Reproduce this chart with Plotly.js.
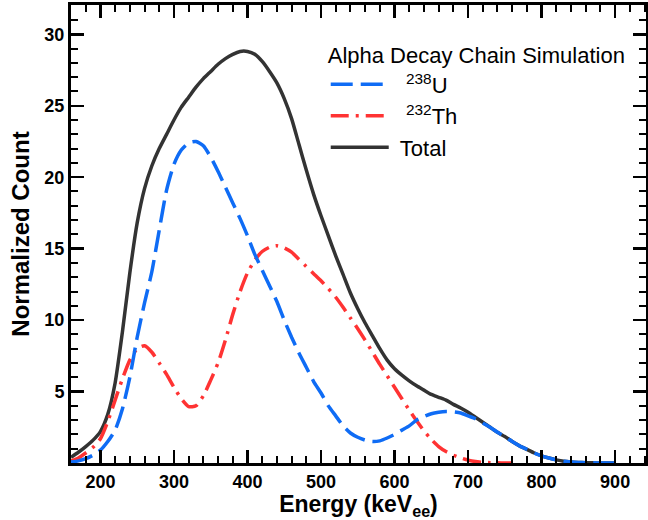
<!DOCTYPE html>
<html>
<head>
<meta charset="utf-8">
<script src="https://cdn.plot.ly/plotly-3.0.1.min.js"></script>
<style>html,body{margin:0;padding:0;background:#fff;}#chart{width:648px;height:520px;}</style>
</head>
<body>
<div id="chart"></div>
<script>
// Energy grid (keV_ee)
const energy = [160,170,180,190,200,210,220,230,240,250,260,270,280,290,300,310,320,330,340,350,360,370,380,390,400,410,420,430,440,450,460,470,480,490,500,510,520,530,540,550,560,570,580,590,600,610,620,630,640,650,660,670,680,690,700,710,720,730,740,750,760,770,780,790,800,810,820,830,840,850,860,870,880,890,900];

// 238U normalized count
const u238 = [0.06,0.15,0.3,0.55,0.9,1.5,2.3,3.8,6.0,8.8,11.2,13.4,16.3,19.1,20.9,21.9,22.4,22.5,22.2,21.4,20.4,19.3,18.2,17.1,15.9,14.6,13.5,12.4,11.3,10.0,8.8,7.7,6.7,5.7,4.9,4.0,3.3,2.6,2.1,1.8,1.6,1.5,1.55,1.75,2.0,2.3,2.6,3.0,3.25,3.45,3.55,3.6,3.58,3.5,3.3,3.1,2.8,2.5,2.15,1.85,1.5,1.2,0.95,0.7,0.5,0.35,0.22,0.12,0.07,0.04,0.02,0.01,0.0,0.0,0.0];

// 232Th normalized count (ends near 760 keV)
const thEnergy = [160,170,180,190,200,210,220,230,240,250,260,270,280,290,300,310,320,330,340,350,360,370,380,390,400,410,420,430,440,450,460,470,480,490,500,510,520,530,540,550,560,570,580,590,600,610,620,630,640,650,660,670,680,690,700,710,720,730,740,750,760];
const th232 = [0.15,0.35,0.7,1.1,1.7,2.9,4.4,5.9,7.2,8.0,8.2,7.75,7.0,6.2,5.3,4.5,3.95,4.0,4.7,5.8,7.0,8.6,10.4,12.0,13.3,14.2,14.8,15.1,15.2,15.05,14.75,14.25,13.75,13.25,12.75,12.2,11.6,10.9,10.15,9.4,8.6,7.75,6.9,6.1,5.3,4.5,3.7,2.95,2.25,1.65,1.15,0.8,0.55,0.35,0.2,0.1,0.05,0.02,0.01,0.0,0.0];

// Total normalized count
const total = [0.4,0.75,1.15,1.6,2.2,3.4,5.6,9.2,13.3,16.8,19.2,20.8,22.0,23.0,24.0,24.9,25.6,26.3,26.9,27.4,27.9,28.3,28.6,28.8,28.8,28.6,28.1,27.4,26.6,25.5,24.1,22.3,20.5,18.8,17.3,15.9,14.5,13.2,11.9,10.8,9.8,8.9,8.0,7.2,6.6,6.15,5.75,5.4,5.1,4.8,4.6,4.4,4.1,3.85,3.55,3.2,2.85,2.5,2.15,1.85,1.5,1.2,0.95,0.7,0.5,0.35,0.22,0.12,0.07,0.04,0.02,0.01,0.0,0.0,0.0];

const xTicks = [200,300,400,500,600,700,800,900];
const yTicks = [5,10,15,20,25,30];

const FONT = "Liberation Sans, Arial, Helvetica, sans-serif";

const traces = [
  {x: energy, y: total, type: 'scatter', mode: 'lines', name: '\u00a0Total', legendrank: 3, legendgroup: 'c',
   line: {color: '#333333', width: 3.5, shape: 'spline', smoothing: 0.6}},
  {x: thEnergy, y: th232, type: 'scatter', mode: 'lines', name: '\u00a0\u00a0<sup>232</sup>Th', legendrank: 2, legendgroup: 'b',
   line: {color: '#ff3333', width: 3.5, dash: '18px,7px,3px,7px', shape: 'spline', smoothing: 0.6}},
  {x: energy, y: u238, type: 'scatter', mode: 'lines', name: '\u00a0\u00a0<sup>238</sup>U', legendrank: 1, legendgroup: 'a',
   line: {color: '#0f6cf5', width: 3.5, dash: '22px,8px', shape: 'spline', smoothing: 0.6}}
];

const axisCommon = {
  showgrid: false, zeroline: false, showline: true, linecolor: '#000', linewidth: 3,
  mirror: 'allticks', ticks: 'inside', ticklen: 13, tickwidth: 2.5, tickcolor: '#000',
  tickfont: {family: FONT, size: 18, color: '#000', weight: 700}
};

const layout = {
  width: 648, height: 520,
  margin: {l: 71, r: 2, t: 5, b: 57},
  paper_bgcolor: '#fff', plot_bgcolor: '#fff',
  showlegend: true,
  legend: {
    x: 0.443, y: 0.935, xanchor: 'left', yanchor: 'top',
    bgcolor: 'rgba(0,0,0,0)', borderwidth: 0, tracegroupgap: 0,
    itemwidth: 58,
    font: {family: FONT, size: 22, color: '#000'},
    title: {text: 'Alpha Decay Chain Simulation', font: {family: FONT, size: 22, color: '#000'}}
  },
  xaxis: Object.assign({}, axisCommon, {
    range: [160, 942], tickmode: 'array', tickvals: xTicks, ticktext: xTicks.map(String),
    minor: {dtick: 20, tick0: 0, ticks: 'inside', ticklen: 7, tickwidth: 2, tickcolor: '#000'},
    title: {text: 'Energy (keV<sub>ee</sub>)', standoff: 2, font: {family: FONT, size: 23, color: '#000', weight: 700}}
  }),
  yaxis: Object.assign({}, axisCommon, {
    range: [0, 32.05], tickmode: 'array', tickvals: yTicks, ticktext: yTicks.map(String),
    minor: {dtick: 1, tick0: 0, ticks: 'inside', ticklen: 7, tickwidth: 2, tickcolor: '#000'},
    title: {text: 'Normalized Count', standoff: 8, font: {family: FONT, size: 24, color: '#000', weight: 700}}
  })
};

Plotly.newPlot('chart', traces, layout, {displayModeBar: false, staticPlot: true});
</script>
</body>
</html>
